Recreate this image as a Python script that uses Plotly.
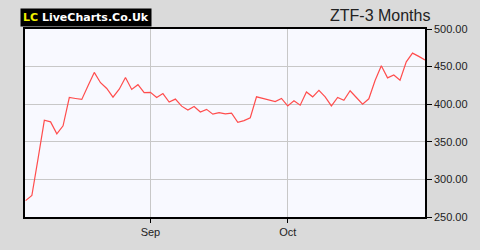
import plotly.graph_objects as go

prices = [271.8, 278.6, 328.0, 378.6, 376.5, 360.6, 371.3, 408.9, 407.6, 406.4,
          424.5, 442.3, 428.6, 420.9, 409.4, 420.0, 435.4, 419.6, 426.0, 415.3,
          415.7, 408.9, 414.1, 402.9, 406.8, 397.4, 392.3, 397.0, 389.7, 393.1,
          386.7, 388.8, 387.1, 388.0, 376.0, 378.2, 382.0, 409.8, 407.7, 405.5,
          403.4, 407.7, 397.8, 404.7, 398.7, 416.2, 409.8, 418.3, 409.8, 397.8,
          408.9, 405.1, 417.9, 408.9, 400.0, 407.2, 431.6, 451.2, 435.0, 438.8,
          432.0, 456.4, 467.9, 463.6, 458.9]
day_index = list(range(len(prices)))
month_tick_index = [20, 42]
month_tick_labels = ["Sep", "Oct"]
y_ticks = [250, 300, 350, 400, 450, 500]
y_tick_labels = ["%.2f" % v for v in y_ticks]

fig = go.Figure()
fig.add_trace(go.Scatter(x=day_index, y=prices, mode="lines",
                         line=dict(color="#ff4d4d", width=1.2),
                         hoverinfo="skip", showlegend=False))

fig.update_layout(
    width=480, height=250,
    margin=dict(l=25, r=54, t=29, b=26),
    paper_bgcolor="#dadada",
    plot_bgcolor="#f8f9ff",
    font=dict(family="Liberation Sans, Arial, sans-serif", size=11, color="#222222"),
    xaxis=dict(range=[-0.1, 64], tickvals=month_tick_index, ticktext=month_tick_labels,
               showgrid=True, gridcolor="#c8c8c8", gridwidth=1,
               showline=True, linecolor="black", linewidth=1.5, mirror=True,
               ticks="outside", ticklen=4, tickcolor="black", zeroline=False,
               tickfont=dict(size=11, color="#222222")),
    yaxis=dict(range=[250, 500], tickvals=y_ticks, ticktext=y_tick_labels,
               side="right", showgrid=True, gridcolor="#c8c8c8", gridwidth=1,
               showline=True, linecolor="black", linewidth=1.5, mirror=True,
               ticks="outside", ticklen=5, tickcolor="black", zeroline=False,
               tickfont=dict(size=11, color="#222222")),
    annotations=[
        dict(xref="paper", yref="paper", x=-0.0125, y=1.0, yshift=21, xanchor="left", yanchor="top",
             text="<b><span style='color:#f0f000'>LC</span> LiveCharts.Co.Uk</b>",
             showarrow=False, bgcolor="black", borderpad=2,
             font=dict(family="DejaVu Sans, Verdana, sans-serif", size=11, color="white")),
        dict(xref="paper", yref="paper", x=1.0, xshift=7, y=1.0, yshift=24, xanchor="right", yanchor="top",
             text="ZTF-3 Months", showarrow=False,
             font=dict(family="Liberation Sans, Arial, sans-serif", size=16, color="#222222")),
    ],
)

fig.write_html("out.html")
